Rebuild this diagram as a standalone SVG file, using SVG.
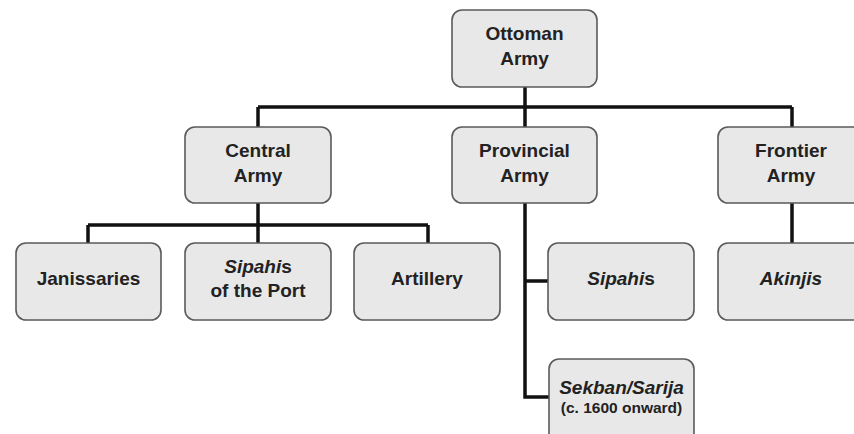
<svg xmlns="http://www.w3.org/2000/svg" width="854" height="434" viewBox="0 0 854 434">
<style>
.box{fill:#e8e8e8;stroke:#5a5a5a;stroke-width:1.6}
.t{font-family:"Liberation Sans",Arial,sans-serif;font-weight:bold;font-size:19px;fill:#222;text-anchor:middle}
.i{font-style:italic}
.s{font-size:15.5px}
.ln{stroke:#111;stroke-width:3.5;fill:none}
</style>
<rect width="854" height="434" fill="#fff"/>
<g id="connectors">
<path class="ln" d="M525 87V107M258 107H792M258 107V127M525 107V127M792 107V127"/>
<path class="ln" d="M258 203V225M88 225H428M88 225V243M258 225V243M428 225V243"/>
<path class="ln" d="M525 203V397H549M525 281H548"/>
<path class="ln" d="M792 203V243"/>
</g>
<g id="ottoman"><rect class="box" x="452" y="10" width="145" height="77" rx="10"/><text class="t" x="524.5" y="40">Ottoman</text><text class="t" x="524.5" y="65">Army</text></g>
<g id="central"><rect class="box" x="185" y="127" width="146" height="76" rx="10"/><text class="t" x="258" y="157">Central</text><text class="t" x="258" y="182">Army</text></g>
<g id="provincial"><rect class="box" x="452" y="127" width="145" height="76" rx="10"/><text class="t" x="524.5" y="157">Provincial</text><text class="t" x="524.5" y="182">Army</text></g>
<g id="frontier"><rect class="box" x="718" y="127" width="146" height="76" rx="10"/><text class="t" x="791" y="157">Frontier</text><text class="t" x="791" y="182">Army</text></g>
<g id="janissaries"><rect class="box" x="16" y="243" width="145" height="77" rx="10"/><text class="t" x="88.5" y="285">Janissaries</text></g>
<g id="sipahis-port"><rect class="box" x="185" y="243" width="146" height="77" rx="10"/><text class="t" x="258" y="273"><tspan class="i">Sipahi</tspan>s</text><text class="t" x="258" y="297">of the Port</text></g>
<g id="artillery"><rect class="box" x="354" y="243" width="146" height="77" rx="10"/><text class="t" x="427" y="285">Artillery</text></g>
<g id="sipahis"><rect class="box" x="548" y="243" width="146" height="77" rx="10"/><text class="t" x="621" y="285"><tspan class="i">Sipahi</tspan>s</text></g>
<g id="akinjis"><rect class="box" x="718" y="243" width="146" height="77" rx="10"/><text class="t i" x="791" y="285">Akinjis</text></g>
<g id="sekban"><rect class="box" x="549" y="359" width="145" height="85" rx="10"/><text class="t i" x="621.5" y="394">Sekban/Sarija</text><text class="t s" x="621.5" y="413">(c. 1600 onward)</text></g>
</svg>
